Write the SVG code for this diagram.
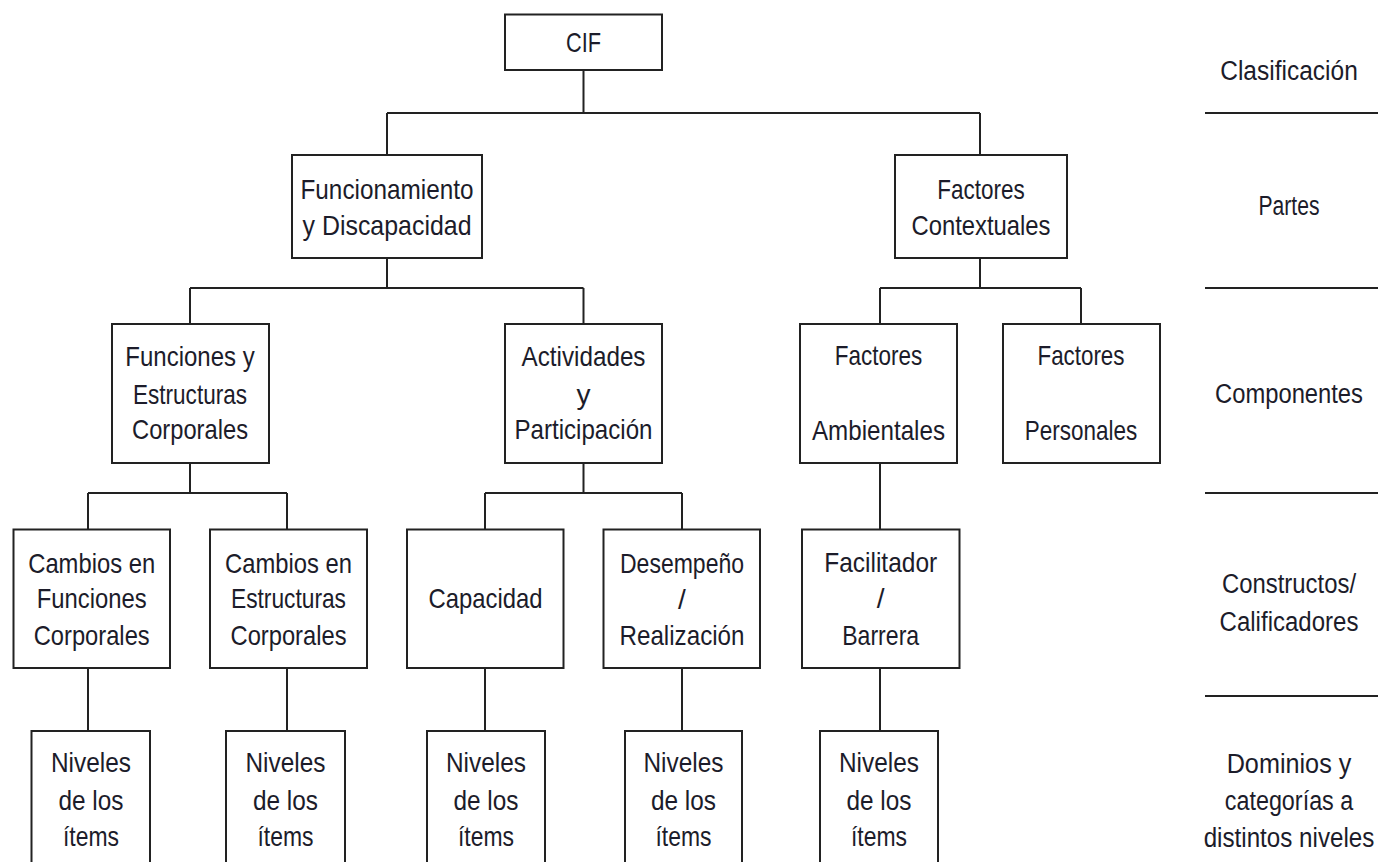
<svg xmlns="http://www.w3.org/2000/svg" width="1378" height="862" viewBox="0 0 1378 862">
<style>
.box{fill:#fff;stroke:#222;stroke-width:2}
.ln{fill:none;stroke:#222;stroke-width:2}
text{font-family:"Liberation Sans",Arial,sans-serif;font-size:28px;fill:#1c1c2a;text-anchor:middle}
</style>
<rect width="1378" height="862" fill="#fff"/>
<g id="connectors">
<path class="ln" d="M583.5 70V113M387 113H980M387 113V155M980 113V155"/>
<path class="ln" d="M387 258V288M190 288H583.5M190 288V324M583.5 288V324"/>
<path class="ln" d="M980 258V288M880 288H1081M880 288V324M1081 288V324"/>
<path class="ln" d="M190 463V493M88 493H287M88 493V529.5M287 493V529.5"/>
<path class="ln" d="M583.5 463V493M485 493H682M485 493V529.5M682 493V529.5"/>
<path class="ln" d="M880 463V529.5"/>
<path class="ln" d="M88 668V731M287 668V731M485 668V731M682 668V731M880 668V731"/>
</g>
<g id="levels">
<path class="ln" d="M1205 113H1378M1205 288H1378M1205 493H1378M1205 696H1378"/>
<g transform="translate(1289,0) scale(0.86,1)">
<text x="0" y="80" textLength="160" lengthAdjust="spacingAndGlyphs">Clasificación</text>
<text x="0" y="215" textLength="71" lengthAdjust="spacingAndGlyphs">Partes</text>
<text x="0" y="403" textLength="172" lengthAdjust="spacingAndGlyphs">Componentes</text>
<text x="0" y="593" textLength="156" lengthAdjust="spacingAndGlyphs">Constructos/</text>
<text x="0" y="631" textLength="161.5" lengthAdjust="spacingAndGlyphs">Calificadores</text>
<text x="0" y="773" textLength="145" lengthAdjust="spacingAndGlyphs">Dominios y</text>
<text x="0" y="810" textLength="149.5" lengthAdjust="spacingAndGlyphs">categorías a</text>
<text x="0" y="847" textLength="198.5" lengthAdjust="spacingAndGlyphs">distintos niveles</text>
</g>
</g>
<g id="cif">
<rect class="box" x="505" y="14.5" width="157" height="55.5"/>
<text x="583.5" y="52" textLength="35" lengthAdjust="spacingAndGlyphs">CIF</text>
</g>
<g id="funcionamiento">
<rect class="box" x="292" y="155" width="190" height="103"/>
<text x="387" y="199" textLength="173" lengthAdjust="spacingAndGlyphs">Funcionamiento</text>
<text x="387" y="235" textLength="169" lengthAdjust="spacingAndGlyphs">y Discapacidad</text>
</g>
<g id="contextuales">
<rect class="box" x="895" y="155" width="172" height="103"/>
<text x="981" y="199" textLength="87.5" lengthAdjust="spacingAndGlyphs">Factores</text>
<text x="981" y="235" textLength="139" lengthAdjust="spacingAndGlyphs">Contextuales</text>
</g>
<g id="funciones-estructuras">
<rect class="box" x="112" y="324" width="157" height="139"/>
<text x="190" y="366" textLength="129.5" lengthAdjust="spacingAndGlyphs">Funciones y</text>
<text x="190" y="404" textLength="114" lengthAdjust="spacingAndGlyphs">Estructuras</text>
<text x="190" y="439" textLength="116" lengthAdjust="spacingAndGlyphs">Corporales</text>
</g>
<g id="actividades">
<rect class="box" x="505" y="324" width="157" height="139"/>
<text x="583.5" y="366" textLength="124" lengthAdjust="spacingAndGlyphs">Actividades</text>
<text x="583.5" y="404">y</text>
<text x="583.5" y="439" textLength="138" lengthAdjust="spacingAndGlyphs">Participación</text>
</g>
<g id="ambientales">
<rect class="box" x="800" y="324" width="157" height="139"/>
<text x="878.5" y="365" textLength="87.5" lengthAdjust="spacingAndGlyphs">Factores</text>
<text x="878.5" y="440" textLength="133" lengthAdjust="spacingAndGlyphs">Ambientales</text>
</g>
<g id="personales">
<rect class="box" x="1003" y="324" width="157" height="139"/>
<text x="1081" y="365" textLength="87" lengthAdjust="spacingAndGlyphs">Factores</text>
<text x="1081" y="440" textLength="112.5" lengthAdjust="spacingAndGlyphs">Personales</text>
</g>
<g id="cambios-funciones">
<rect class="box" x="13.5" y="529.5" width="156.5" height="138.5"/>
<text x="91.7" y="573" textLength="127" lengthAdjust="spacingAndGlyphs">Cambios en</text>
<text x="91.7" y="608" textLength="110" lengthAdjust="spacingAndGlyphs">Funciones</text>
<text x="91.7" y="645" textLength="116" lengthAdjust="spacingAndGlyphs">Corporales</text>
</g>
<g id="cambios-estructuras">
<rect class="box" x="210" y="529.5" width="157" height="138.5"/>
<text x="288.5" y="573" textLength="127" lengthAdjust="spacingAndGlyphs">Cambios en</text>
<text x="288.5" y="608" textLength="115" lengthAdjust="spacingAndGlyphs">Estructuras</text>
<text x="288.5" y="645" textLength="116" lengthAdjust="spacingAndGlyphs">Corporales</text>
</g>
<g id="capacidad">
<rect class="box" x="407" y="529.5" width="156.5" height="138.5"/>
<text x="485.5" y="608" textLength="114" lengthAdjust="spacingAndGlyphs">Capacidad</text>
</g>
<g id="desempeno">
<rect class="box" x="603.5" y="529.5" width="156.5" height="138.5"/>
<text x="682" y="573" textLength="124" lengthAdjust="spacingAndGlyphs">Desempeño</text>
<text x="682" y="609">/</text>
<text x="682" y="645" textLength="125" lengthAdjust="spacingAndGlyphs">Realización</text>
</g>
<g id="facilitador">
<rect class="box" x="802" y="529.5" width="157.5" height="138.5"/>
<text x="880.7" y="572" textLength="113" lengthAdjust="spacingAndGlyphs">Facilitador</text>
<text x="880.7" y="608">/</text>
<text x="880.7" y="645" textLength="77" lengthAdjust="spacingAndGlyphs">Barrera</text>
</g>
<g id="niveles-1">
<rect class="box" x="31.5" y="731" width="118.5" height="160"/>
<text x="91" y="772" textLength="80" lengthAdjust="spacingAndGlyphs">Niveles</text>
<text x="91" y="810" textLength="65" lengthAdjust="spacingAndGlyphs">de los</text>
<text x="91" y="846" textLength="56" lengthAdjust="spacingAndGlyphs">ítems</text>
</g>
<g id="niveles-2">
<rect class="box" x="226" y="731" width="119" height="160"/>
<text x="285.5" y="772" textLength="80" lengthAdjust="spacingAndGlyphs">Niveles</text>
<text x="285.5" y="810" textLength="65" lengthAdjust="spacingAndGlyphs">de los</text>
<text x="285.5" y="846" textLength="56" lengthAdjust="spacingAndGlyphs">ítems</text>
</g>
<g id="niveles-3">
<rect class="box" x="427" y="731" width="118" height="160"/>
<text x="486" y="772" textLength="80" lengthAdjust="spacingAndGlyphs">Niveles</text>
<text x="486" y="810" textLength="65" lengthAdjust="spacingAndGlyphs">de los</text>
<text x="486" y="846" textLength="56" lengthAdjust="spacingAndGlyphs">ítems</text>
</g>
<g id="niveles-4">
<rect class="box" x="625" y="731" width="117" height="160"/>
<text x="683.5" y="772" textLength="80" lengthAdjust="spacingAndGlyphs">Niveles</text>
<text x="683.5" y="810" textLength="65" lengthAdjust="spacingAndGlyphs">de los</text>
<text x="683.5" y="846" textLength="56" lengthAdjust="spacingAndGlyphs">ítems</text>
</g>
<g id="niveles-5">
<rect class="box" x="820" y="731" width="118" height="160"/>
<text x="879" y="772" textLength="80" lengthAdjust="spacingAndGlyphs">Niveles</text>
<text x="879" y="810" textLength="65" lengthAdjust="spacingAndGlyphs">de los</text>
<text x="879" y="846" textLength="56" lengthAdjust="spacingAndGlyphs">ítems</text>
</g>
</svg>
